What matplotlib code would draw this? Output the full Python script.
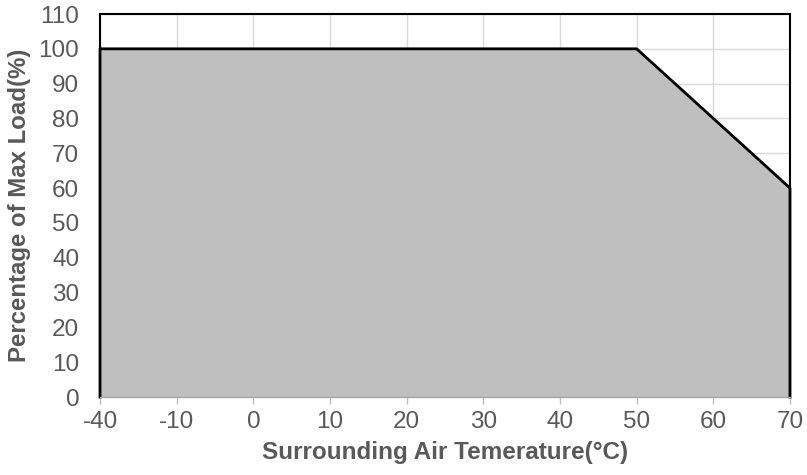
import matplotlib
matplotlib.use("Agg")
import matplotlib.pyplot as plt

plt.rcParams['font.family'] = ['Liberation Sans', 'DejaVu Sans']

x_labels = ["-40", "-10", "0", "10", "20", "30", "40", "50", "60", "70"]
load = [100, 100, 100, 100, 100, 100, 100, 100, 80, 60]
y_ticks = list(range(0, 111, 10))

txt = "#595959"
fig = plt.figure(figsize=(8.07, 4.75), dpi=100)
ax = fig.add_axes([100/807, 78/475, 690/807, 383/475])
xs = list(range(len(x_labels)))
ax.fill_between(xs, load, 0, color="#bfbfbf", linewidth=0, zorder=2)
ax.plot([0] + xs + [xs[-1]], [0] + load + [0], color="black", lw=2, zorder=3, clip_on=False)

ax.set_xlim(0, len(x_labels) - 1)
ax.set_ylim(0, 110)
ax.set_xticks(xs)
ax.set_xticklabels(x_labels)
ax.set_yticks(y_ticks)
ax.grid(True, color="#d9d9d9", lw=1, zorder=1)
ax.set_axisbelow(True)
for s in ["top", "left", "right"]:
    ax.spines[s].set_color("black")
    ax.spines[s].set_linewidth(1.5)
ax.spines["bottom"].set_color("#a6a6a6")
ax.spines["bottom"].set_linewidth(1)
ax.spines["bottom"].set_zorder(4)
ax.tick_params(axis="x", colors="#bfbfbf", length=5, width=1, labelcolor=txt, labelsize=17.5, pad=5)
ax.tick_params(axis="y", length=0, labelcolor=txt, labelsize=17.5, pad=15)
ax.set_xlabel("Surrounding Air Temerature(°C)", fontsize=17.5, fontweight="bold", color=txt, labelpad=6)
ax.set_ylabel("Percentage of Max Load(%)", fontsize=17.3, fontweight="bold", color=txt)
ax.yaxis.set_label_coords(-0.1, 0.5)
fig.savefig("out.png", dpi=100)
